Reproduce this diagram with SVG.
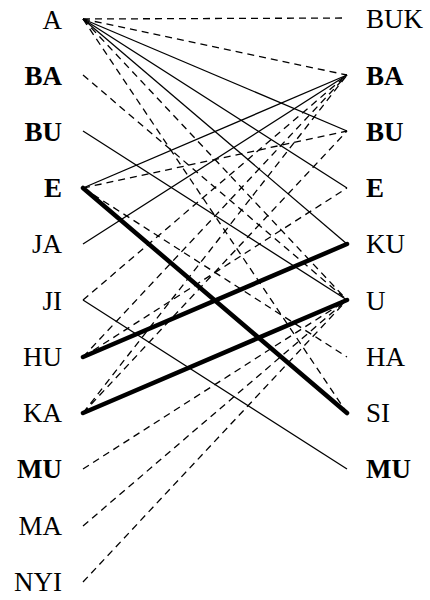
<svg xmlns="http://www.w3.org/2000/svg" width="430" height="600" viewBox="0 0 430 600">
<style>
.thin{stroke:#000;stroke-width:1.3;fill:none}
.dash{stroke:#000;stroke-width:1.3;fill:none;stroke-dasharray:7 5}
.thick{stroke:#000;stroke-width:4.5;fill:none;stroke-linecap:round}
.t{font-family:'Liberation Serif','Times New Roman',Times,'Noto Serif','DejaVu Serif',serif;font-size:27px;fill:#000}
</style>
<rect width="430" height="600" fill="#fff"/>
<g id="connectors">
<line class="dash" x1="83" y1="19" x2="347" y2="18"/>
<line class="dash" x1="83" y1="19" x2="347" y2="75"/>
<line class="thin" x1="83" y1="19" x2="347" y2="131"/>
<line class="thin" x1="83" y1="19" x2="347" y2="188"/>
<line class="thin" x1="83" y1="19" x2="347" y2="244"/>
<line class="dash" x1="83" y1="19" x2="347" y2="300"/>
<line class="dash" x1="83" y1="19" x2="347" y2="413"/>
<line class="dash" x1="83" y1="75" x2="347" y2="300"/>
<line class="thin" x1="83" y1="131" x2="347" y2="300"/>
<line class="thin" x1="83" y1="188" x2="347" y2="75"/>
<line class="dash" x1="83" y1="188" x2="347" y2="131"/>
<line class="dash" x1="83" y1="188" x2="347" y2="357"/>
<line class="thick" x1="83" y1="188" x2="347" y2="413"/>
<line class="thin" x1="83" y1="244" x2="347" y2="75"/>
<line class="dash" x1="83" y1="300" x2="347" y2="75"/>
<line class="thin" x1="83" y1="300" x2="347" y2="469"/>
<line class="thick" x1="83" y1="357" x2="347" y2="244"/>
<line class="dash" x1="83" y1="357" x2="347" y2="75"/>
<line class="dash" x1="83" y1="357" x2="347" y2="188"/>
<line class="thick" x1="83" y1="413" x2="347" y2="300"/>
<line class="dash" x1="83" y1="413" x2="347" y2="131"/>
<line class="dash" x1="83" y1="413" x2="347" y2="75"/>
<line class="dash" x1="83" y1="469" x2="347" y2="300"/>
<line class="dash" x1="83" y1="526" x2="347" y2="300"/>
<line class="dash" x1="83" y1="582" x2="347" y2="300"/>
</g>
<g id="L_A"><text class="t" text-anchor="end" x="62" y="28.5">A</text></g>
<g id="L_BA"><text class="t" text-anchor="end" font-weight="bold" x="62" y="85">BA</text></g>
<g id="L_BU"><text class="t" text-anchor="end" font-weight="bold" x="62" y="141">BU</text></g>
<g id="L_E"><text class="t" text-anchor="end" font-weight="bold" x="62" y="197">E</text></g>
<g id="L_JA"><text class="t" text-anchor="end" x="62" y="253">JA</text></g>
<g id="L_JI"><text class="t" text-anchor="end" x="62" y="310">JI</text></g>
<g id="L_HU"><text class="t" text-anchor="end" x="62" y="366">HU</text></g>
<g id="L_KA"><text class="t" text-anchor="end" x="62" y="422">KA</text></g>
<g id="L_MU"><text class="t" text-anchor="end" font-weight="bold" x="62" y="478">MU</text></g>
<g id="L_MA"><text class="t" text-anchor="end" x="62" y="535">MA</text></g>
<g id="L_NYI"><text class="t" text-anchor="end" x="62" y="591">NYI</text></g>
<g id="R_BUK"><text class="t" x="366" y="28">BUK</text></g>
<g id="R_BA"><text class="t" font-weight="bold" x="366" y="85">BA</text></g>
<g id="R_BU"><text class="t" font-weight="bold" x="366" y="141">BU</text></g>
<g id="R_E"><text class="t" font-weight="bold" x="366" y="197">E</text></g>
<g id="R_KU"><text class="t" x="366" y="253">KU</text></g>
<g id="R_U"><text class="t" x="366" y="310">U</text></g>
<g id="R_HA"><text class="t" x="366" y="366">HA</text></g>
<g id="R_SI"><text class="t" x="366" y="422">SI</text></g>
<g id="R_MU"><text class="t" font-weight="bold" x="366" y="478">MU</text></g>
</svg>
